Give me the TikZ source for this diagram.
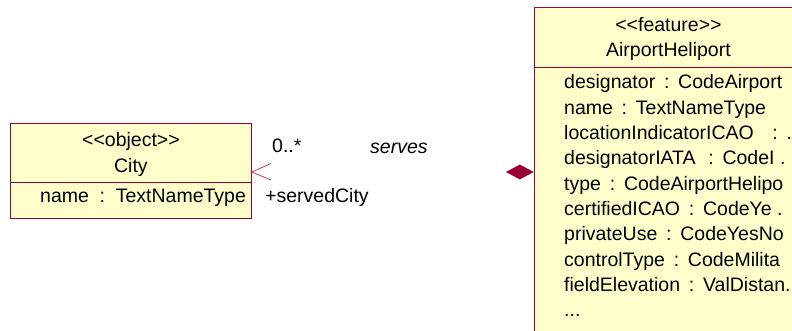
\documentclass[tikz,border=0pt]{standalone}
\usepackage{fontspec}
\setmainfont{Liberation Sans}
\usetikzlibrary{positioning,shapes.geometric}

\definecolor{umlborder}{RGB}{153,0,51}
\definecolor{umlfill}{RGB}{255,255,204}
\definecolor{umlnav}{RGB}{204,51,102}

\newcommand{\attrsep}{\hskip0.45em:\hskip0.45em}

\tikzset{
  classbox/.style={draw=umlborder,fill=umlfill,line width=0.9pt,inner sep=0pt},
  divider/.style={draw=umlborder,line width=0.9pt},
  navhead/.style={draw=umlnav,line width=0.8pt},
  aggdiamond/.style={diamond,fill=umlborder,inner sep=0pt,minimum width=28pt,minimum height=15pt},
  plain/.style={inner sep=0pt}
}

\begin{document}
\begin{tikzpicture}[x=1pt,y=-1pt,font=\fontsize{19.5}{25.3}\selectfont]
        \useasboundingbox (0,0) rectangle (792,331);
        \clip (0,0) rectangle (792,331);

        % City
        \node (city) at (10,123) [classbox,anchor=north west,minimum width=241pt,minimum height=95pt]{};
        \draw [divider](city.west |- 0,182) -- (city.east |- 0,182);
        \node (cityst) at (city.north |- 0,147) [anchor=base]{<{}<object>{}>};
        \node (cityname) at (city.north |- 0,172.5) [anchor=base]{City};
        \node (cityattr) at (40,203) [plain,anchor=base west]{name\hskip0.55em:\hskip0.55em TextNameType};

        % AirportHeliport
        \node (heli) at (534,7) [classbox,anchor=north west,minimum width=268pt,minimum height=340pt]{};
        \draw [divider](heli.west |- 0,67) -- (heli.east |- 0,67);
        \node (helist) at (heli.north |- 0,32) [anchor=base]{<{}<feature>{}>};
        \node (heliname) at (heli.north |- 0,57) [anchor=base]{AirportHeliport};
        \foreach \attr [count=\i from 0] in {{designator\attrsep CodeAirport}, {name\attrsep TextNameType},
            {locationIndicatorICAO\hskip0.5em\attrsep .}, {designatorIATA\hskip0.2em\attrsep CodeI .},
            {type\attrsep CodeAirportHelipo}, {certifiedICAO\attrsep CodeYe .}, {privateUse\attrsep CodeYesNo},
            {controlType\attrsep CodeMilita}, {fieldElevation\attrsep ValDistan.}, {{.}{.}{.}}}
          \node (heliattr\i) at (564,89+25.3*\i) [plain,anchor=base west]{\attr};

        % association ends
        \coordinate (navtip) at (city.east |- 0,172);
        \draw [navhead]([shift={(19,-8.5)}]navtip) -- (navtip) -- ([shift={(19,8)}]navtip);
        \node (agg) at (heli.west |- 0,172) [aggdiamond,anchor=east]{};

        \node (mult) at (272,153) [plain,anchor=base west]{0..*};
        \node (assoc) at (370,154) [plain,anchor=base west]{\itshape serves};
        \node (role) at (265,203) [plain,anchor=base west]{+servedCity};

    \end{tikzpicture}
\end{document}
